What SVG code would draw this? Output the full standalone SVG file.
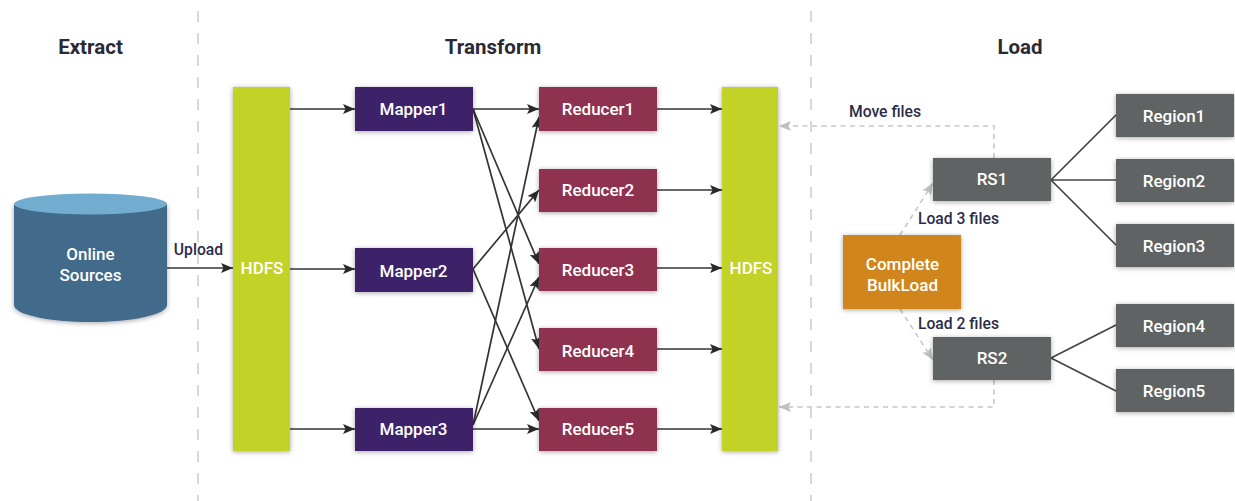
<svg xmlns="http://www.w3.org/2000/svg" width="1235" height="501" viewBox="0 0 1235 501">
<style>
text{font-family:Roboto,"Noto Sans",sans-serif;text-anchor:middle}
.t{fill:#fff;font-size:17px;font-weight:500}
.h{fill:#2a2a35;font-size:20.500px;font-weight:700}
.l{fill:#2c2c48;font-size:15.700px;font-weight:500}
.sep{stroke:#cfcfd2;stroke-width:1.6;stroke-dasharray:11 11;fill:none}
.e{stroke:#333;stroke-width:1.7;fill:none;marker-end:url(#a)}
.p{stroke:#444;stroke-width:1.7;fill:none}
.d{stroke:#c6c6c6;stroke-width:1.6;stroke-dasharray:5 4.5;fill:none;marker-end:url(#g)}
.n{filter:url(#s)}
.m{fill:#3c216b}.r{fill:#8f304f}.y{fill:#c3d225}.k{fill:#5f6464}.o{fill:#d0861a}
</style>
<defs>
<filter id="s" x="-20%" y="-20%" width="140%" height="140%"><feDropShadow dx="0" dy="1" stdDeviation="2.5" flood-color="#000" flood-opacity=".35"/></filter>
<marker id="a" markerUnits="userSpaceOnUse" markerWidth="13" markerHeight="10" refX="12" refY="5" orient="auto"><path d="M0 0L12 5L0 10L2.500 5Z" fill="#2a2a2a"/></marker>
<marker id="g" markerUnits="userSpaceOnUse" markerWidth="13" markerHeight="10" refX="12" refY="5" orient="auto"><path d="M0 0L12 5L0 10L2.500 5Z" fill="#c0c0c0"/></marker>
</defs>
<g id="separators">
<path class="sep" d="M198 11V501"/>
<path class="sep" d="M811 11V501"/>
</g>
<g id="section-labels">
<text class="h" x="90.500" y="53.500">Extract</text>
<text class="h" x="493" y="53.500">Transform</text>
<text class="h" x="1020" y="53.500">Load</text>
</g>
<g id="connectors">
<path class="e" d="M167 268H233"/>
<path class="e" d="M290 109H355"/>
<path class="e" d="M290 269H355"/>
<path class="e" d="M290 429H355"/>
<path class="e" d="M473 109H539"/>
<path class="e" d="M473 109L539 264"/>
<path class="e" d="M473 109L539 349"/>
<path class="e" d="M473 269L539 190"/>
<path class="e" d="M473 269L539 421"/>
<path class="e" d="M473 425L539 117"/>
<path class="e" d="M473 425L539 277"/>
<path class="e" d="M473 429H539"/>
<path class="e" d="M657 109H722"/>
<path class="e" d="M657 190H722"/>
<path class="e" d="M657 268H722"/>
<path class="e" d="M657 349H722"/>
<path class="e" d="M657 429H722"/>
<path class="d" d="M994 158V126H779"/>
<path class="d" d="M994 380V407H779"/>
<path class="d" d="M900 235L933 183"/>
<path class="d" d="M900 309L933 360"/>
<path class="p" d="M1051 180L1116 115"/>
<path class="p" d="M1051 180H1116"/>
<path class="p" d="M1051 180L1116 245"/>
<path class="p" d="M1051 358L1116 325"/>
<path class="p" d="M1051 358L1116 391"/>
<text class="l" x="198.500" y="255">Upload</text>
<text class="l" x="885" y="117">Move files</text>
<text class="l" x="958.500" y="224">Load 3 files</text>
<text class="l" x="958.500" y="329">Load 2 files</text>
</g>
<g id="online-sources">
<path class="n" d="M14 204V305C14 314.500 48 322 90.500 322S167 314.500 167 305V204Z" fill="#426a8b"/>
<ellipse cx="90.500" cy="204" rx="76.500" ry="10.500" fill="#72acce"/>
<text class="t" x="90.500" y="260">Online</text>
<text class="t" x="90.500" y="280.500">Sources</text>
</g>
<g id="hdfs1"><rect class="n y" x="233" y="87" width="57" height="364"/><text class="t" x="262" y="274">HDFS</text></g>
<g id="hdfs2"><rect class="n y" x="722" y="87" width="56" height="364"/><text class="t" x="751" y="274">HDFS</text></g>
<g id="mapper1"><rect class="n m" x="355" y="87" width="118" height="44"/><text class="t" x="413.500" y="114.500">Mapper1</text></g>
<g id="mapper2"><rect class="n m" x="355" y="248" width="118" height="44"/><text class="t" x="413.500" y="276.500">Mapper2</text></g>
<g id="mapper3"><rect class="n m" x="355" y="408" width="118" height="43"/><text class="t" x="413.500" y="434.500">Mapper3</text></g>
<g id="reducer1"><rect class="n r" x="539" y="87" width="118" height="44"/><text class="t" x="598" y="114.500">Reducer1</text></g>
<g id="reducer2"><rect class="n r" x="539" y="169" width="118" height="43"/><text class="t" x="598" y="195.500">Reducer2</text></g>
<g id="reducer3"><rect class="n r" x="539" y="248" width="118" height="43"/><text class="t" x="598" y="276">Reducer3</text></g>
<g id="reducer4"><rect class="n r" x="539" y="328" width="118" height="43"/><text class="t" x="598" y="357">Reducer4</text></g>
<g id="reducer5"><rect class="n r" x="539" y="408" width="118" height="43"/><text class="t" x="598" y="434.500">Reducer5</text></g>
<g id="complete-bulkload"><rect class="n o" x="843" y="235" width="118" height="74"/><text class="t" x="902.500" y="269.500">Complete</text><text class="t" x="902.500" y="290.500">BulkLoad</text></g>
<g id="rs1"><rect class="n k" x="933" y="158" width="118" height="43"/><text class="t" x="992" y="185">RS1</text></g>
<g id="rs2"><rect class="n k" x="933" y="337" width="118" height="43"/><text class="t" x="992" y="364">RS2</text></g>
<g id="region1"><rect class="n k" x="1116" y="94" width="118" height="43"/><text class="t" x="1174" y="122">Region1</text></g>
<g id="region2"><rect class="n k" x="1116" y="159" width="118" height="43"/><text class="t" x="1174" y="187">Region2</text></g>
<g id="region3"><rect class="n k" x="1116" y="224" width="118" height="43"/><text class="t" x="1174" y="252">Region3</text></g>
<g id="region4"><rect class="n k" x="1116" y="304" width="118" height="43"/><text class="t" x="1174" y="331.500">Region4</text></g>
<g id="region5"><rect class="n k" x="1116" y="369" width="118" height="43"/><text class="t" x="1174" y="396.500">Region5</text></g>
</svg>
